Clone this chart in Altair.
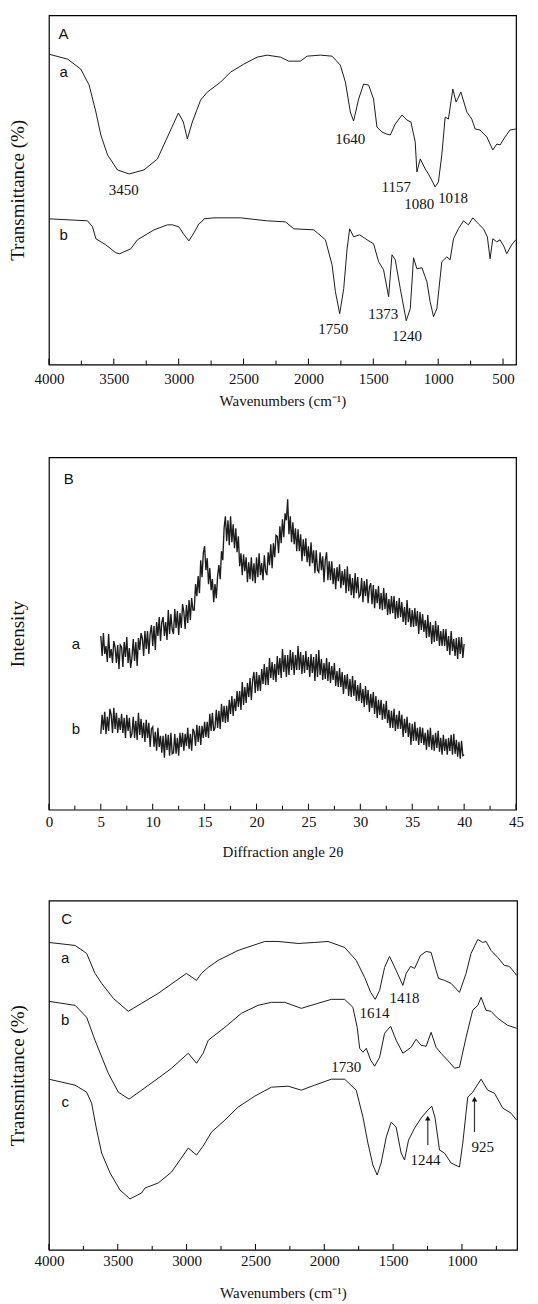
import altair as alt
import pandas as pd

# ---------------- Panel A (FTIR) ----------------
A_A_WN = [4000, 3856, 3754, 3690, 3638, 3600, 3548, 3472, 3382, 3267, 3164, 3062, 3002, 2964, 2933, 2895, 2831,
          2779, 2677, 2600, 2498, 2395, 2318, 2215, 2152, 2062, 2010, 1908, 1818, 1754, 1715, 1677, 1652, 1613,
          1575, 1536, 1498, 1472, 1433, 1400, 1369, 1331, 1279, 1241, 1210, 1177, 1164, 1138, 1100, 1075, 1023,
          998, 972, 946, 921, 887, 862, 825, 779, 741, 715, 677, 625, 579, 548, 523, 485, 446, 402]
A_A_T = [311, 306, 296, 280, 253, 230, 210, 195, 191, 195, 206, 235, 252, 243, 226, 243, 265, 273, 283, 293, 301,
         308, 310, 308, 304, 304, 309, 310, 309, 300, 283, 253, 244, 266, 281, 280, 266, 238, 233, 231, 230, 241,
         250, 245, 243, 223, 193, 206, 196, 191, 178, 183, 210, 248, 246, 276, 263, 273, 253, 246, 236, 235, 228,
         215, 221, 220, 228, 235, 236]
A_B_WN = [4000, 3702, 3664, 3638, 3562, 3485, 3454, 3369, 3318, 3190, 3087, 3048, 2998, 2964, 2921, 2882, 2844,
          2823, 2805, 2728, 2523, 2318, 2177, 2113, 1959, 1869, 1818, 1792, 1759, 1728, 1702, 1682, 1652, 1605,
          1548, 1498, 1459, 1421, 1382, 1356, 1331, 1292, 1246, 1215, 1190, 1164, 1125, 1087, 1062, 1036, 1010,
          972, 933, 908, 882, 844, 805, 767, 733, 690, 651, 621, 600, 579, 549, 523, 492, 472, 433, 402]
A_B_T = [146, 144, 138, 126, 120, 112, 111, 116, 125, 135, 140, 140, 138, 131, 124, 132, 141, 143, 146, 147, 147,
         144, 143, 136, 135, 125, 100, 73, 51, 76, 116, 136, 128, 130, 125, 121, 103, 95, 68, 110, 105, 76, 44, 56,
         107, 96, 97, 83, 63, 48, 56, 103, 108, 105, 126, 136, 144, 140, 147, 141, 136, 128, 106, 126, 123, 125,
         118, 111, 120, 125]
A_NOTE_TEXT = ["3450", "1640", "1157", "1080", "1018", "1750", "1373", "1240"]
A_NOTE_WN = [3423, 1677, 1323, 1146, 885, 1808, 1423, 1241]
A_NOTE_T = [175, 226, 178, 161, 167, 36, 51, 29]
A_TAG_TEXT = ["A", "a", "b"]
A_TAG_WN = [3887, 3887, 3887]
A_TAG_T = [331, 293, 130]
A_TICKS = [4000, 3500, 3000, 2500, 2000, 1500, 1000, 500]
A_MINOR = [3750, 3250, 2750, 2250, 1750, 1250, 750]

# ---------------- Panel B (XRD) ----------------
B_START = 5.0
B_STEP = 0.125
B_A_I = [174, 154, 177, 156, 164, 148, 176, 152,
         161, 147, 169, 163, 147, 165, 141, 165,
         163, 143, 168, 153, 173, 147, 162, 142,
         153, 171, 149, 168, 144, 172, 160, 177,
         172, 154, 179, 161, 179, 156, 176, 185,
         164, 184, 160, 188, 174, 193, 169, 188,
         193, 174, 188, 170, 200, 176, 196, 181,
         176, 201, 182, 199, 175, 197, 182, 206,
         198, 181, 205, 187, 210, 190, 212, 200,
         200, 226, 214, 234, 217, 250, 233, 257,
         264, 240, 252, 226, 242, 220, 231, 208,
         226, 212, 234, 245, 231, 259, 250, 282,
         294, 269, 290, 265, 294, 268, 286, 262,
         282, 258, 274, 244, 257, 235, 256, 239,
         253, 228, 248, 231, 253, 229, 247, 227,
         253, 233, 257, 235, 247, 230, 255, 239,
         235, 258, 245, 266, 242, 267, 253, 275,
         274, 257, 284, 267, 291, 273, 297, 290,
         311, 276, 294, 268, 288, 266, 282, 259,
         281, 259, 276, 249, 271, 254, 272, 248,
         264, 244, 268, 247, 260, 237, 260, 240,
         238, 258, 240, 254, 228, 250, 258, 230,
         249, 230, 249, 226, 242, 221, 243, 229,
         246, 222, 239, 225, 241, 217, 244, 219,
         236, 215, 232, 212, 237, 217, 233, 213,
         215, 232, 208, 229, 214, 231, 207, 223,
         227, 206, 225, 202, 221, 207, 224, 201,
         217, 200, 222, 201, 217, 195, 211, 196,
         214, 197, 214, 191, 209, 192, 212, 193,
         208, 188, 203, 185, 210, 188, 202, 183,
         200, 183, 202, 184, 199, 176, 198, 180,
         196, 178, 190, 172, 195, 173, 188, 166,
         185, 168, 189, 169, 185, 164, 179, 164,
         181, 164, 181, 159, 174, 155, 179, 159,
         171, 154, 172, 151, 173, 156, 173, 152,
         166]
B_B_I = [76, 95, 80, 98, 76, 93, 79, 101,
         95, 77, 102, 81, 97, 77, 92, 80,
         96, 77, 92, 72, 95, 79, 92, 72,
         76, 93, 72, 89, 70, 97, 75, 91,
         72, 87, 68, 90, 72, 87, 63, 81,
         83, 63, 78, 59, 82, 63, 74, 57,
         74, 52, 76, 60, 75, 54, 77, 56,
         57, 76, 56, 72, 54, 77, 63, 77,
         59, 76, 64, 82, 61, 76, 59, 81,
         78, 64, 85, 68, 84, 65, 84, 72,
         88, 73, 88, 72, 96, 79, 97, 79,
         82, 100, 82, 99, 81, 106, 88, 104,
         87, 104, 88, 110, 96, 114, 94, 111,
         99, 119, 103, 119, 100, 128, 105, 123,
         107, 127, 113, 132, 110, 130, 138, 117,
         138, 119, 135, 119, 141, 126, 146, 125,
         143, 125, 152, 132, 148, 130, 146, 128,
         154, 135, 152, 132, 161, 138, 155, 133,
         155, 135, 160, 140, 158, 135, 155, 140,
         164, 140, 158, 136, 155, 137, 159, 140,
         153, 133, 156, 137, 153, 129, 156, 133,
         160, 135, 151, 130, 147, 131, 152, 129,
         148, 127, 144, 130, 147, 124, 139, 123,
         142, 123, 138, 116, 135, 121, 136, 114,
         131, 113, 134, 114, 130, 109, 125, 109,
         127, 107, 121, 103, 124, 105, 120, 98,
         116, 102, 118, 96, 114, 92, 110, 95,
         110, 90, 106, 91, 109, 87, 100, 82,
         99, 82, 101, 79, 95, 81, 99, 81,
         95, 73, 91, 77, 93, 73, 87, 65,
         86, 69, 88, 69, 82, 65, 83, 67,
         82, 65, 77, 60, 80, 63, 82, 60,
         75, 59, 77, 62, 79, 58, 72, 55,
         75, 59, 71, 55, 72, 59, 75, 55,
         76, 56, 70, 53, 68, 51, 69, 54,
         55]
B_TAG_TEXT = ["B", "a", "b"]
B_TAG_X = [1.92, 2.6, 2.6]
B_TAG_Y = [331, 166, 81]
B_TICKS = [0, 5, 10, 15, 20, 25, 30, 35, 40, 45]
B_MINOR = [2.5, 7.5, 12.5, 17.5, 22.5, 27.5, 32.5, 37.5, 42.5]

# ---------------- Panel C (FTIR) ----------------
C_A_WN = [4000, 3810, 3726, 3665, 3617, 3532, 3424, 3327, 3206, 3001, 2928, 2892, 2843, 2771, 2626, 2432, 2336,
          2191, 2070, 1973, 1852, 1768, 1707, 1663, 1630, 1598, 1562, 1526, 1478, 1429, 1405, 1373, 1344, 1301,
          1260, 1224, 1188, 1170, 1127, 1079, 1018, 970, 934, 885, 849, 825, 789, 740, 692, 656, 619, 603]
C_A_T = [308, 305, 297, 277, 267, 252, 239, 247, 257, 277, 270, 277, 283, 290, 300, 309, 309, 307, 308, 309, 303,
         290, 273, 258, 251, 260, 283, 294, 280, 265, 277, 284, 282, 295, 299, 298, 280, 272, 270, 267, 258, 277,
         297, 311, 308, 309, 300, 293, 285, 284, 278, 275]
C_B_WN = [4000, 3810, 3726, 3665, 3569, 3496, 3418, 3327, 3206, 3109, 2988, 2928, 2880, 2843, 2722, 2602, 2481,
          2384, 2287, 2167, 2046, 1949, 1852, 1792, 1761, 1743, 1719, 1695, 1663, 1634, 1598, 1562, 1518, 1478,
          1429, 1369, 1333, 1297, 1260, 1224, 1188, 1152, 1091, 1054, 1018, 970, 922, 885, 861, 825, 789, 740,
          668, 603]
C_B_T = [249, 245, 233, 210, 177, 158, 151, 160, 172, 182, 197, 187, 197, 210, 223, 237, 245, 248, 248, 242, 247,
         251, 251, 243, 223, 202, 198, 202, 190, 184, 193, 217, 224, 210, 197, 203, 211, 205, 204, 218, 203, 197,
         188, 182, 183, 213, 240, 245, 253, 240, 239, 232, 225, 222]
C_C_WN = [4000, 3810, 3726, 3690, 3653, 3617, 3556, 3484, 3411, 3327, 3302, 3206, 3109, 2988, 2928, 2880, 2819,
          2722, 2626, 2505, 2384, 2263, 2167, 2070, 1949, 1852, 1768, 1719, 1683, 1647, 1616, 1587, 1550, 1514,
          1478, 1442, 1417, 1388, 1344, 1297, 1248, 1219, 1195, 1163, 1127, 1079, 1018, 994, 958, 922, 861, 813,
          764, 704, 644, 603]
C_C_T = [171, 165, 158, 147, 120, 97, 77, 60, 51, 57, 62, 67, 78, 102, 95, 104, 118, 130, 143, 154, 163, 164, 160,
         165, 171, 171, 160, 133, 107, 85, 75, 87, 113, 128, 123, 97, 90, 110, 122, 132, 140, 144, 132, 100, 97, 87,
         83, 107, 153, 158, 171, 160, 157, 142, 137, 130]
C_NOTE_TEXT = ["1418", "1614", "1730", "1244", "925"]
C_NOTE_WN = [1417, 1635, 1840, 1265, 849]
C_NOTE_T = [252, 237, 183, 90, 103]
C_ARROW_WN = [1248, 909]
C_ARROW_FROM = [105, 118]
C_ARROW_TO = [132, 151]
C_TAG_TEXT = ["C", "a", "b", "c"]
C_TAG_WN = [3871, 3882, 3882, 3882]
C_TAG_T = [331, 292, 230, 148]
C_TICKS = [4000, 3500, 3000, 2500, 2000, 1500, 1000]
C_MINOR = [3750, 3250, 2750, 2250, 1750, 1250, 750]

SERIF = "Liberation Serif"
SANS = "Liberation Sans"
LINE_COLOR = "#1c1c1c"


def curves_df(series):
    rows = []
    for name, xs, ys in series:
        for i, (x, y) in enumerate(zip(xs, ys)):
            rows.append({"s": name, "i": i, "x": x, "y": y})
    return pd.DataFrame(rows)


def panel(series, xscale, yscale, w, h, ticks, minor, xtitle, ytitle, lpad, tpad,
          notes=None, tags=None, arrows=None, fmt="d", stroke=1.0):
    x_axis = alt.Axis(values=ticks, format=fmt, ticks=False, domain=False, grid=False,
                      labelPadding=lpad, titlePadding=tpad, title=xtitle,
                      labelFlush=False, labelOverlap=False)
    y_axis = alt.Axis(labels=False, ticks=False, domain=False, grid=False, title=ytitle,
                      titlePadding=21, titleFontSize=19)

    def X(f):
        return alt.X(f, scale=xscale, axis=x_axis)

    def Y(f):
        return alt.Y(f, scale=yscale, axis=y_axis)

    lines = alt.Chart(curves_df(series)).mark_line(
        color=LINE_COLOR, strokeWidth=stroke, clip=True
    ).encode(x=X("x:Q"), y=Y("y:Q"), detail="s:N", order="i:Q")
    layers = [lines]
    maj = alt.Chart(pd.DataFrame({"x": ticks})).mark_rule(color="black", strokeWidth=1).encode(
        x=X("x:Q"), y=alt.value(h), y2=alt.value(h - 6))
    mnr = alt.Chart(pd.DataFrame({"x": minor})).mark_rule(color="black", strokeWidth=1).encode(
        x=X("x:Q"), y=alt.value(h), y2=alt.value(h - 4))
    layers += [maj, mnr]
    if notes is not None:
        txt, nx, ny = notes
        layers.append(alt.Chart(pd.DataFrame({"l": txt, "x": nx, "y": ny})).mark_text(
            font=SERIF, fontSize=15, color="#111", align="center", baseline="middle"
        ).encode(x=X("x:Q"), y=Y("y:Q"), text="l:N"))
    if tags is not None:
        txt, nx, ny = tags
        layers.append(alt.Chart(pd.DataFrame({"l": txt, "x": nx, "y": ny})).mark_text(
            font=SANS, fontSize=15, color="#111", align="center", baseline="middle"
        ).encode(x=X("x:Q"), y=Y("y:Q"), text="l:N"))
    if arrows is not None:
        ax, a0, a1 = arrows
        adf = pd.DataFrame({"x": ax, "y": a0, "y1": a1})
        layers.append(alt.Chart(adf).mark_rule(color="#333", strokeWidth=1.2).encode(
            x=X("x:Q"), y=Y("y:Q"), y2="y1:Q"))
        layers.append(alt.Chart(adf).mark_point(shape="triangle-up", filled=True, color="#111",
                                                 size=30, opacity=1).encode(
            x=X("x:Q"), y=alt.Y("y1:Q", scale=yscale, axis=y_axis)))
    return alt.layer(*layers).properties(width=w, height=h)


# Panel A
xa = alt.Scale(domain=[400, 4000], reverse=True, nice=False, zero=False)
ya = alt.Scale(domain=[0, 350], nice=False, zero=False)
chart_a = panel([("a", A_A_WN, A_A_T), ("b", A_B_WN, A_B_T)], xa, ya, 468, 350,
                A_TICKS, A_MINOR, "Wavenumbers (cm\u207b\u00b9)", "Transmittance (%)", 7, 7,
                notes=(A_NOTE_TEXT, A_NOTE_WN, A_NOTE_T), tags=(A_TAG_TEXT, A_TAG_WN, A_TAG_T))

# Panel B
angles = [B_START + B_STEP * k for k in range(len(B_A_I))]
xb = alt.Scale(domain=[0, 45], nice=False, zero=False)
yb = alt.Scale(domain=[0, 353], nice=False, zero=False)
chart_b = panel([("a", angles, B_A_I), ("b", angles, B_B_I)], xb, yb, 468, 353,
                B_TICKS, B_MINOR, "Diffraction angle 2\u03b8", "Intensity", 5, 15,
                tags=(B_TAG_TEXT, B_TAG_X, B_TAG_Y), stroke=1.35)

# Panel C
xc = alt.Scale(domain=[600, 4000], reverse=True, nice=False, zero=False)
yc = alt.Scale(domain=[0, 350], nice=False, zero=False)
chart_c = panel([("a", C_A_WN, C_A_T), ("b", C_B_WN, C_B_T), ("c", C_C_WN, C_C_T)], xc, yc, 469, 350,
                C_TICKS, C_MINOR, "Wavenumbers (cm\u207b\u00b9)", "Transmittance (%)", 4, 17,
                notes=(C_NOTE_TEXT, C_NOTE_WN, C_NOTE_T), tags=(C_TAG_TEXT, C_TAG_WN, C_TAG_T),
                arrows=(C_ARROW_WN, C_ARROW_FROM, C_ARROW_TO))

top = alt.vconcat(chart_a, chart_b, spacing=47).resolve_scale(x="independent", y="independent")
chart = alt.vconcat(top, chart_c, spacing=39).resolve_scale(
    x="independent", y="independent"
).properties(
    padding={"left": 0, "top": 5, "right": 5, "bottom": 5}
).configure_view(
    stroke="black", strokeWidth=1.2
).configure_axis(
    labelFont=SERIF, labelFontSize=15, labelColor="#111",
    titleFont=SERIF, titleFontSize=15, titleFontWeight="normal", titleColor="#111"
)

chart.save("out.html", embed_options={"renderer": "svg", "actions": False})
